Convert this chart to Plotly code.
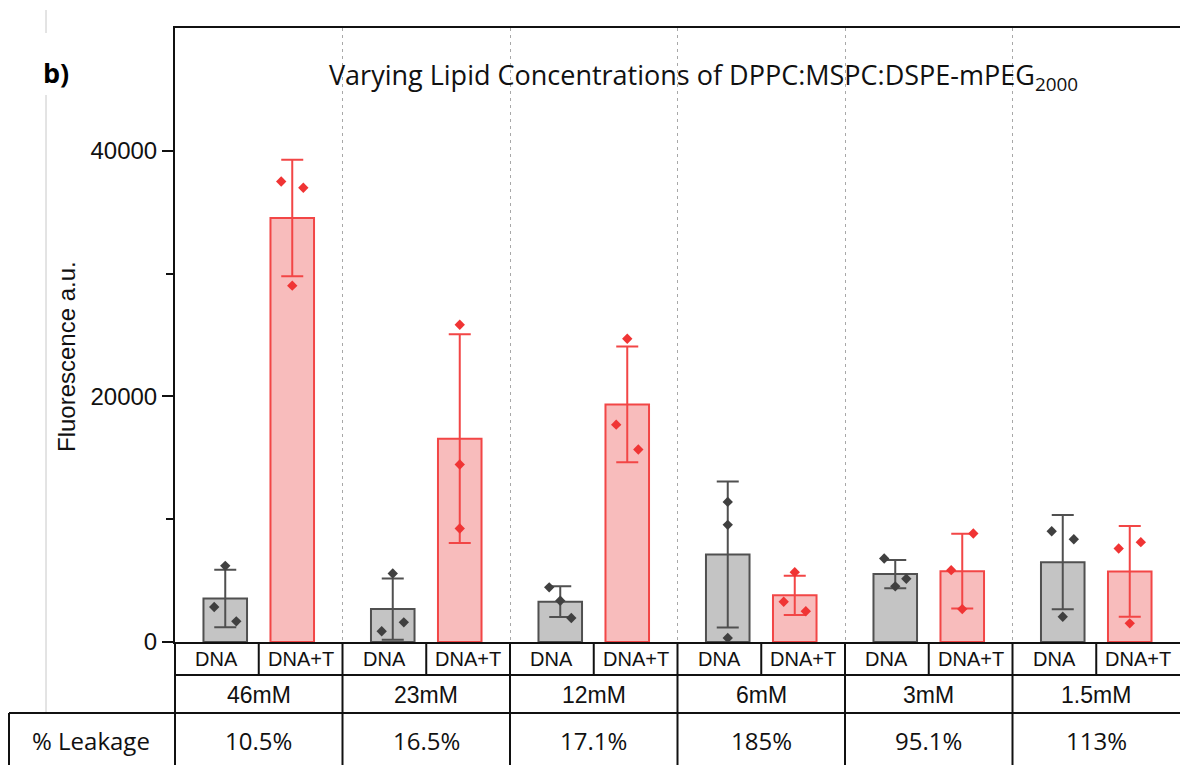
import plotly.graph_objects as go

# ---------------- data ----------------
groups = ["46mM", "23mM", "12mM", "6mM", "3mM", "1.5mM"]
leakage = ["10.5%", "16.5%", "17.1%", "185%", "95.1%", "113%"]
sub_labels = ["DNA", "DNA+T"]

dna_mean = [3550, 2680, 3280, 7130, 5530, 6500]
dna_err = [2340, 2500, 1250, 5940, 1150, 3840]
dnat_mean = [34530, 16560, 19350, 3800, 5770, 5750]
dnat_err = [4750, 8500, 4720, 1600, 3050, 3700]

# replicate points per bar, order: left, centre, right
dna_pts = [[2845, 6200, 1680], [870, 5580, 1600], [4450, 3360, 1950],
           [11410, 9540, 325], [6800, 4530, 5150], [9020, 2060, 8370]]
dnat_pts = [[37500, 29020, 36990], [25830, 14450, 9240], [17700, 24690, 15670],
            [3280, 5690, 2500], [5850, 2680, 8840], [7620, 1520, 8130]]

title_main = "Varying Lipid Concentrations of DPPC:MSPC:DSPE-mPEG<sub>2000</sub>"
y_title = "Fluorescence a.u."
panel = "b)"
row_label = "% Leakage"

# ---------------- styling / geometry ----------------
W, H = 1180, 765
L, R, T, B = 175, 0, 28, 123
PW, PH = W - L - R, H - T - B
XMIN, XMAX = -0.5, len(groups) - 0.5
OFF, BW, JIT = 0.2, 0.26, 0.066
spread_dna = [1, 1, 1, 0, 1, 1]
spread_dnat = [1, 0, 1, 1, 1, 1]

GRAY_FILL, GRAY_LINE = "#c4c4c4", "#505050"
RED_FILL, RED_LINE = "#f8bcbc", "#f24646"
ARIAL = "Liberation Sans, Arial, sans-serif"
CAL = "Open Sans, sans-serif"


def px_x(px):
    return (px - L) / PW


def px_y(py):
    return (H - B - py) / PH


def data_x(x):
    return (x - XMIN) / (XMAX - XMIN)


xs = list(range(len(groups)))
fig = go.Figure()

fig.add_trace(go.Bar(
    x=[i - OFF for i in xs], y=dna_mean, width=BW,
    marker=dict(color=GRAY_FILL, line=dict(color=GRAY_LINE, width=2)),
    error_y=dict(type="data", array=dna_err, color=GRAY_LINE, thickness=2, width=11),
    name="DNA", showlegend=False))
fig.add_trace(go.Bar(
    x=[i + OFF for i in xs], y=dnat_mean, width=BW,
    marker=dict(color=RED_FILL, line=dict(color=RED_LINE, width=2)),
    error_y=dict(type="data", array=dnat_err, color=RED_LINE, thickness=2, width=11),
    name="DNA+T", showlegend=False))

for pts, spread, sign, col in [(dna_pts, spread_dna, -1, "#404040"),
                               (dnat_pts, spread_dnat, 1, "#f03434")]:
    px_, py_ = [], []
    for i, trio in enumerate(pts):
        for k, v in enumerate(trio):
            px_.append(i + sign * OFF + (k - 1) * JIT * spread[i])
            py_.append(v)
    fig.add_trace(go.Scatter(x=px_, y=py_, mode="markers",
                             marker=dict(symbol="diamond", size=8, color=col),
                             showlegend=False, hoverinfo="y"))

shapes = []
LINE = dict(color="#111111", width=2)
y_top = px_y(642)
y_r1 = px_y(675)
y_r2 = px_y(713)
y_bot = px_y(770)
# horizontal table lines
shapes.append(dict(type="line", xref="paper", yref="paper", x0=0, x1=1, y0=y_r1, y1=y_r1, line=LINE))
shapes.append(dict(type="line", xref="paper", yref="paper", x0=px_x(9), x1=1, y0=y_r2, y1=y_r2, line=LINE))
# left borders
shapes.append(dict(type="line", xref="paper", yref="paper", x0=0, x1=0, y0=y_top, y1=y_bot, line=LINE))
shapes.append(dict(type="line", xref="paper", yref="paper", x0=px_x(9), x1=px_x(9), y0=y_r2, y1=y_bot, line=LINE))
# group dividers and sub dividers
for i in xs:
    shapes.append(dict(type="line", xref="paper", yref="paper", x0=data_x(i), x1=data_x(i),
                       y0=y_top, y1=y_r1, line=LINE))
    if i < len(groups) - 1:
        shapes.append(dict(type="line", xref="paper", yref="paper", x0=data_x(i + 0.5), x1=data_x(i + 0.5),
                           y0=y_top, y1=y_bot, line=LINE))
# faint image-edge line on the left
for a, b in [(10, 33), (95, 712)]:
    shapes.append(dict(type="line", xref="paper", yref="paper", x0=px_x(46), x1=px_x(46),
                       y0=px_y(a), y1=px_y(b), line=dict(color="#c8c8c8", width=1)))

C = dict(showarrow=False, xanchor="center", yanchor="middle")
ann = []
for i, g in enumerate(groups):
    for j, s in enumerate(sub_labels):
        ann.append(dict(x=i + (j - 0.5) * 0.5, y=px_y(659), xref="x", yref="paper", text=s,
                        font=dict(family=ARIAL, size=20, color="#111"), **C))
    ann.append(dict(x=i, y=px_y(695), xref="x", yref="paper", text=g,
                    font=dict(family=ARIAL, size=23, color="#111"), **C))
    ann.append(dict(x=i, y=px_y(740), xref="x", yref="paper", text=leakage[i],
                    font=dict(family=CAL, size=24, color="#111"), **C))
ann.append(dict(x=px_x(91), y=px_y(740), xref="paper", yref="paper", text=row_label,
                font=dict(family=CAL, size=24, color="#111"), **C))
ann.append(dict(x=px_x(703), y=px_y(76), xref="paper", yref="paper", text=title_main,
                font=dict(family=CAL, size=27, color="#111"), **C))
ann.append(dict(x=px_x(56), y=px_y(72), xref="paper", yref="paper", text="<b>" + panel + "</b>",
                font=dict(family=CAL, size=27, color="#000"), **C))
ann.append(dict(x=px_x(66), y=px_y(357), xref="paper", yref="paper", text=y_title,
                textangle=-90, font=dict(family=ARIAL, size=24, color="#111"), **C))

fig.update_layout(
    width=W, height=H, margin=dict(l=L, r=R, t=T, b=B, pad=0),
    paper_bgcolor="white", plot_bgcolor="white",
    barmode="overlay", shapes=shapes, annotations=ann,
    xaxis=dict(range=[XMIN, XMAX], tickvals=[i + 0.5 for i in xs[:-1]], showticklabels=False,
               ticks="", showgrid=True, gridcolor="#a8a8a8", griddash="3px,4px", gridwidth=1,
               showline=True, linecolor="#111", linewidth=2, mirror=True, zeroline=False,
               fixedrange=True),
    yaxis=dict(range=[0, 50000], tickvals=[0, 20000, 40000], ticktext=["0", "20000", "40000"],
               ticks="outside", ticklen=11, tickwidth=2, tickcolor="#111",
               minor=dict(tickvals=[10000, 30000], ticks="outside", ticklen=7, tickwidth=2,
                          tickcolor="#111", showgrid=False),
               showgrid=False, zeroline=False, showline=True, linecolor="#111", linewidth=2,
               mirror=False, tickfont=dict(family=ARIAL, size=24, color="#111"), fixedrange=True),
)

fig.write_html("out.html")
